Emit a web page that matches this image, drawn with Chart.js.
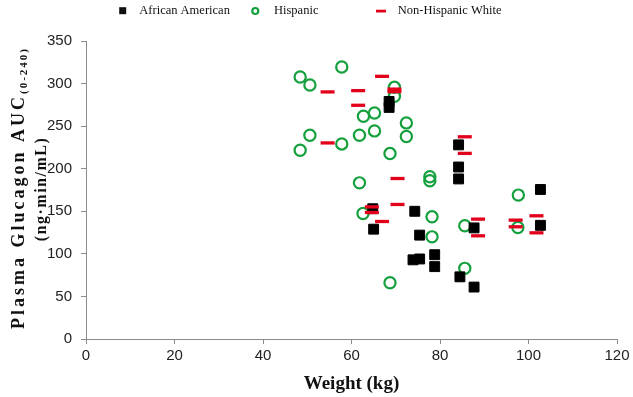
<!DOCTYPE html>
<html>
<head>
<meta charset="utf-8">
<script src="https://cdn.jsdelivr.net/npm/chart.js@4.4.1/dist/chart.umd.min.js"></script>
<style>
  html, body { margin: 0; padding: 0; background: #fff; }
</style>
</head>
<body>
<canvas id="myChart" width="633" height="397"></canvas>
<script>
(() => {

  // African American (black squares)
  const aaWeight = [68.5, 68.5, 64.8, 65.0, 74.3, 75.4, 73.9, 75.4, 78.8, 78.8, 84.2, 84.2, 84.2, 87.7, 87.7, 84.5, 102.7, 102.7];
  const aaAuc    = [279, 272, 153, 129, 150, 122, 93, 94, 99, 85, 228, 202, 188, 61, 130.5, 73, 175.6, 133.5];

  // Hispanic (green circles)
  const hisWeight = [57.8, 48.4, 50.6, 69.7, 69.7, 62.7, 65.2, 72.4, 72.4, 50.6, 61.8, 65.2, 48.4, 57.8, 68.7, 61.8, 77.7, 77.7, 62.6, 78.2, 78.2, 68.7, 97.7, 85.6, 97.6, 85.6];
  const hisAuc    = [319.5, 307.7, 298.3, 295.6, 285, 261.6, 265.5, 253.8, 237.8, 239.3, 239.3, 244.4, 221.7, 229.1, 217.8, 183.4, 190.5, 185.8, 147.4, 143.5, 120, 66, 169, 133, 131, 83];

  // Non-Hispanic White (red dashes)
  const nhwWeight = [54.6, 61.5, 66.9, 69.7, 69.7, 61.5, 54.6, 70.4, 70.4, 64.6, 64.6, 66.9, 85.6, 85.6, 88.6, 88.6, 97.1, 97.1, 101.8, 101.8];
  const nhwAuc    = [290.2, 291.7, 308.5, 293.5, 290.5, 274.5, 230.3, 188.5, 158, 155.2, 148.6, 138, 237.5, 218, 140.8, 121.2, 139.6, 131.8, 144.7, 124.7];

  const seriesNames = ['African American', 'Hispanic', 'Non-Hispanic White'];
  const xRange = [0, 120], xStep = 20;
  const yRange = [0, 350], yStep = 50;

  const toPoints = (xs, ys) => xs.map((x, i) => ({ x: x, y: ys[i] }));

  const axisGray = '#8c8c8c';
  const green = '#14a03c';
  const red = '#e3001b';

  // legend + rotated y title with subscript
  const decorations = {
    id: 'decorations',
    afterDraw(chart) {
      const ctx = chart.ctx;
      ctx.save();
      // legend
      ctx.font = '12.5px "Liberation Serif"';
      ctx.fillStyle = '#111';
      ctx.textBaseline = 'middle';
      ctx.textAlign = 'left';
      ctx.fillRect(119.2, 7.2, 7, 7);
      ctx.fillText(seriesNames[0], 139.3, 10.5);
      ctx.beginPath();
      ctx.strokeStyle = green;
      ctx.lineWidth = 2.2;
      ctx.arc(255.3, 11, 3, 0, Math.PI * 2);
      ctx.stroke();
      ctx.fillText(seriesNames[1], 274, 10.5);
      ctx.fillStyle = red;
      ctx.fillRect(376, 9.7, 10, 2.8);
      ctx.fillStyle = '#111';
      ctx.fillText(seriesNames[2], 397.7, 10.5);

      // y axis title
      const mainFont = 'bold 18px "Liberation Serif"';
      const subFont = 'bold 11px "Liberation Serif"';
      const main = 'Plasma Glucagon AUC';
      const sub = '(0-240)';
      ctx.letterSpacing = '3px';
      ctx.font = mainFont;
      const wMain = ctx.measureText(main).width;
      ctx.letterSpacing = '2px';
      ctx.font = subFont;
      const wSub = ctx.measureText(sub).width;
      const total = wMain + wSub;

      ctx.save();
      ctx.translate(24, 188);
      ctx.rotate(-Math.PI / 2);
      ctx.textBaseline = 'alphabetic';
      ctx.letterSpacing = '3px';
      ctx.font = mainFont;
      ctx.fillText(main, -total / 2, 0);
      ctx.letterSpacing = '2px';
      ctx.font = subFont;
      ctx.fillText(sub, -total / 2 + wMain, 3);
      ctx.restore();

      ctx.save();
      ctx.translate(46, 189);
      ctx.rotate(-Math.PI / 2);
      ctx.textAlign = 'center';
      ctx.textBaseline = 'alphabetic';
      ctx.letterSpacing = '1.5px';
      ctx.font = 'bold 16px "Liberation Serif"';
      ctx.fillText('(ng\u00b7min/mL)', 0, 0);
      ctx.restore();

      ctx.restore();
    }
  };

  const ctx = document.getElementById('myChart');
  const myChart = new Chart(ctx, {
    type: 'scatter',
    data: {
      datasets: [{
        label: seriesNames[0],
        data: toPoints(aaWeight, aaAuc),
        pointStyle: 'rect',
        pointRadius: 7,
        backgroundColor: '#000',
        borderColor: '#000',
        borderWidth: 1,
        order: 2
      }, {
        label: seriesNames[1],
        data: toPoints(hisWeight, hisAuc),
        pointStyle: 'circle',
        pointRadius: 5.6,
        backgroundColor: 'rgba(0,0,0,0)',
        borderColor: green,
        borderWidth: 2.2,
        order: 3
      }, {
        label: seriesNames[2],
        data: toPoints(nhwWeight, nhwAuc),
        pointStyle: 'line',
        pointRadius: 7,
        borderColor: red,
        borderWidth: 3.3,
        order: 1
      }]
    },
    options: {
      responsive: false,
      animation: false,
      events: [],
      layout: { padding: { top: 41, right: 16, left: 0, bottom: 0 } },
      plugins: {
        legend: { display: false },
        tooltip: { enabled: false }
      },
      scales: {
        x: {
          type: 'linear',
          min: xRange[0],
          max: xRange[1],
          ticks: { stepSize: xStep, font: { family: 'Liberation Sans', size: 15 }, color: '#222', padding: 3 },
          grid: { drawOnChartArea: false, tickLength: 5, color: axisGray },
          border: { color: axisGray },
          title: {
            display: true,
            text: 'Weight (kg)',
            font: { family: 'Liberation Serif', size: 19, weight: 'bold' },
            color: '#111',
            padding: { top: 0, bottom: 2 }
          },
          afterFit(scale) { scale.height = 58; }
        },
        y: {
          min: yRange[0],
          max: yRange[1],
          ticks: { stepSize: yStep, font: { family: 'Liberation Sans', size: 15 }, color: '#222', padding: 9 },
          grid: { drawOnChartArea: false, tickLength: 5, color: axisGray },
          border: { color: axisGray },
          afterFit(scale) { scale.width = 86; }
        }
      }
    },
    plugins: [decorations]
  });

})();
</script>
</body>
</html>
